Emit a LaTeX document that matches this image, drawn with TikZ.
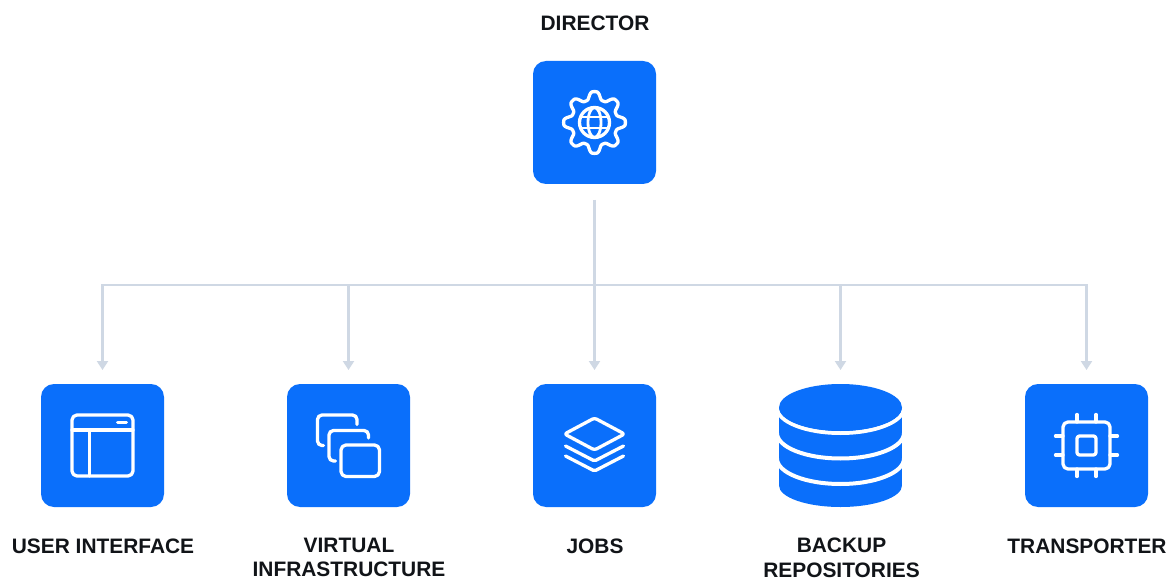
\documentclass[tikz,border=0pt]{standalone}
\usepackage{fontspec}
\setmainfont{Liberation Sans}
\usetikzlibrary{arrows.meta}
\definecolor{brand}{HTML}{0A6FFB}
\definecolor{wire}{HTML}{CFD8E4}
\definecolor{ink}{HTML}{111418}
\tikzset{
  x=1pt,y=-1pt,
  tile/.style={fill=brand,rounded corners=13pt,minimum size=123pt,inner sep=0pt,outer sep=0pt},
  ghost/.style={minimum size=123pt,inner sep=0pt,outer sep=0pt},
  lbl/.style={font=\fontsize{20.9}{24.8}\selectfont\bfseries,align=center,inner sep=0pt,text=ink},
  glyph/.style={draw=white,line width=3.3pt,line cap=round,line join=round,fill=none},
  wireline/.style={draw=wire,line width=2.1pt},
  wirearrow/.style={wireline,-{Triangle[length=9pt,width=11pt]},shorten >=14pt},
  band/.style={draw=white,line width=4pt},
}
\begin{document}
\begin{tikzpicture}
\useasboundingbox (0,0) rectangle (1173,580);
\fill[white] (0,0) rectangle (1173,580);
% tiles
\node[tile]  (dir)  at (594.5,122.5) {};
\node[tile]  (ui)   at (102.5,445.5) {};
\node[tile]  (vi)   at (348.5,445.5) {};
\node[tile]  (jobs) at (594.5,445.5) {};
\node[ghost] (repo) at (840.5,445.5) {};
\node[tile]  (tr)   at (1086.5,445.5) {};
% labels
\node[lbl] (ldir)  at (595,23) {DIRECTOR};
\node[lbl] (lui)   at (103,546) {USER INTERFACE};
\node[lbl,anchor=north] (lvi) at (349,537.5) {VIRTUAL\\INFRASTRUCTURE};
\node[lbl] (ljobs) at (595,546) {JOBS};
\node[lbl,anchor=north] (lrepo) at (841.5,537.5) {BACKUP\\REPOSITORIES};
\node[lbl] (ltr)   at (1087,546) {TRANSPORTER};
% connectors
\coordinate (hub) at (594.5,285);
\draw[wireline,shorten <=16pt] (dir.south) -- (hub);
\draw[wirearrow] (hub) -| (ui.north);
\draw[wirearrow] (hub) -| (vi.north);
\draw[wirearrow] (hub) -- (jobs.north);
\draw[wirearrow] (hub) -| (repo.north);
\draw[wirearrow] (hub) -| (tr.north);
% gear + globe
\begin{scope}[shift={(dir.center)}]
  \draw[glyph] plot[smooth cycle,domain=0:357.5,samples=144] (\x:{27+4.4*(cos(8*\x)-0.12*cos(24*\x))});
  \draw[glyph] (0,0) circle (15);
  \draw[glyph,line width=2.8pt] (0,0) ellipse (6.5 and 15);
  \draw[glyph,line width=2.8pt] (-13.5,-5.5) -- (13.5,-5.5);
  \draw[glyph,line width=2.8pt] (-13.5,5.5) -- (13.5,5.5);
\end{scope}
% window
\begin{scope}[shift={(ui.center)}]
  \draw[glyph,rounded corners=5pt] (-30.5,-30.5) rectangle (30.5,30.5);
  \draw[glyph] (-30.5,-15.5) -- (30.5,-15.5);
  \draw[glyph] (-13.3,-15.5) -- (-13.3,30.5);
  \draw[glyph,line width=3pt] (15,-22.8) -- (24,-22.8);
\end{scope}
% stacked windows
\begin{scope}[shift={(vi.center)}]
  \draw[glyph,rounded corners=4.5pt] (-25,0) -- (-31,0) -- (-31,-30.5) -- (8.5,-30.5) -- (8.5,-21);
  \draw[glyph,rounded corners=4.5pt] (-13,15.5) -- (-19.5,15.5) -- (-19.5,-15) -- (20,-15) -- (20,-7.5);
  \draw[glyph,rounded corners=5pt] (-7.5,-0.5) rectangle (31,31);
\end{scope}
% layers
\begin{scope}[shift={(jobs.center)}]
  \draw[glyph,rounded corners=2.5pt] (0,-27.5) -- (30,-11.5) -- (0,4.5) -- (-30,-11.5) -- cycle;
  \draw[glyph,rounded corners=1.5pt] (-29,0.5) -- (0,15.5) -- (29,0.5);
  \draw[glyph,rounded corners=1.5pt] (-29,10.5) -- (0,25.5) -- (29,10.5);
\end{scope}
% database
\begin{scope}[shift={(repo.center)}]
  \begin{scope}
    \clip (-61.5,-38) -- (61.5,-38) -- (61.5,40)
      arc[start angle=0,end angle=180,x radius=61.5,y radius=21.5] -- cycle;
    \fill[brand] (-61.5,-38) rectangle (61.5,62);
    \draw[band] (-63.5,-38) arc[start angle=180,end angle=0,x radius=63.5,y radius=25.5];
    \draw[band] (-63.5,-12.5) arc[start angle=180,end angle=0,x radius=63.5,y radius=25.5];
    \draw[band] (-63.5,13) arc[start angle=180,end angle=0,x radius=63.5,y radius=25.5];
  \end{scope}
  \fill[brand] (0,-38) ellipse (61.5 and 23.5);
\end{scope}
% chip
\begin{scope}[shift={(tr.center)}]
  \draw[glyph,rounded corners=5pt] (-23.5,-23.5) rectangle (23.5,23.5);
  \draw[glyph,rounded corners=2.5pt] (-9.5,-9.5) rectangle (9.5,9.5);
  \foreach \p in {-9.5,9.5}{
    \draw[glyph] (\p,-23.5) -- (\p,-31);
    \draw[glyph] (\p,23.5) -- (\p,31);
    \draw[glyph] (-23.5,\p) -- (-31,\p);
    \draw[glyph] (23.5,\p) -- (31,\p);
  }
\end{scope}
\end{tikzpicture}
\end{document}
